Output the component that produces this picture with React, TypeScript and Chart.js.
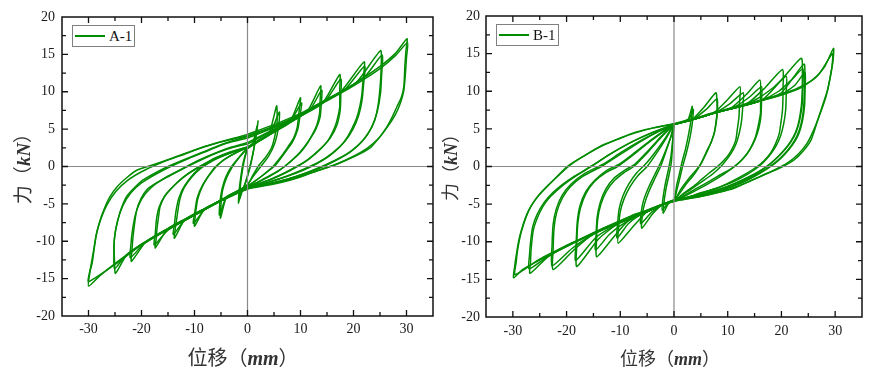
import React, { useEffect, useRef } from "react";
import { Chart, registerables } from "chart.js";
Chart.register(...registerables);

const GREEN = "rgb(0,140,0)";

// tick labels & tick marks
const xTickLabels = [-30, -20, -10, 0, 10, 20, 30];
const yTickLabels = [-20, -15, -10, -5, 0, 5, 10, 15, 20];
const xTickMarks = [-30, -25, -20, -15, -10, -5, 0, 5, 10, 15, 20, 25, 30];
const yTickMarks = [-17.5, -15, -12.5, -10, -7.5, -5, -2.5, 0, 2.5, 5, 7.5, 10, 12.5, 15, 17.5];

// ---------- A-1 hysteresis loops [displacement mm, force kN] ----------
const A1_loop1 = [[0,2.5],[1.0,3.0],[1.5,3.6],[2.0,6.1],[1.6,4.2],[1.2,2.4],[0.6,0.4],[0,-1.2],[-0.6,-2.6],[-1.2,-3.4],[-1.7,-4.9],[-1.6,-3.4],[-1.3,-1.6],[-0.9,0.2],[-0.4,1.6],[0,2.5]];
const A1_loop1b = [[0,2.4],[1.0,3.1],[1.8,5.4],[1.5,3.6],[1.0,1.6],[0.4,-0.3],[-0.3,-2.0],[-0.9,-3.1],[-1.5,-4.4],[-1.4,-3.0],[-1.1,-1.2],[-0.7,0.5],[-0.3,1.7],[0,2.4]];
const A1_loop2 = [[0,2.5],[2,3.4],[4,4.3],[5.5,8.1],[5.6,6.6],[5.5,5.3],[4.6,2.6],[3.4,1.2],[2.2,0.2],[1,-1.2],[0,-2.5],[-2,-3.4],[-4,-4.2],[-5.1,-6.9],[-5.0,-5.0],[-4.7,-3.2],[-4.0,-1.6],[-3.0,-0.2],[-1.8,1.0],[-0.8,1.9],[0,2.5]];
const A1_loop2b = [[0,2.4],[2,3.3],[4.2,4.3],[6,7.3],[5.9,5.5],[5.2,3.2],[4,1.4],[2.5,0],[1,-1.4],[0,-2.4],[-2,-3.3],[-4,-4.1],[-5.3,-6.5],[-5.2,-4.8],[-4.8,-3.0],[-4.1,-1.4],[-3,0],[-1.6,1.2],[0,2.4]];
const A1_loop3 = [[0,2.5],[3,3.8],[6,5.0],[8,5.9],[10,9.2],[9.7,7.2],[9.4,5.3],[8.7,3.8],[7.6,2.6],[6.2,1.2],[4.8,0],[3,-1.1],[1.5,-1.9],[0,-2.6],[-3,-3.7],[-6,-4.9],[-8.3,-5.9],[-10,-8],[-9.8,-6.3],[-9.4,-4.4],[-8.6,-2.8],[-7.5,-1.4],[-6,0],[-4,1.1],[-2,1.9],[0,2.5]];
const A1_loop3b = [[0,2.6],[4,4.3],[8,6.0],[10.2,8.5],[9.9,6.8],[9.5,5.0],[8.5,3.3],[7.2,2.0],[5.3,0.2],[3.2,-1.0],[0,-2.7],[-4,-4.1],[-8,-5.7],[-10.2,-7.6],[-9.9,-5.9],[-9.5,-4.2],[-8.4,-2.4],[-6.6,-0.6],[-4.5,0.9],[-2,1.9],[0,2.6]];
const A1_loop4 = [[0,2.5],[4,4.2],[8,5.9],[11.3,7.4],[13.8,10.8],[13.7,8.8],[13.6,7.1],[13.1,5.6],[12.4,4.5],[11.3,3.1],[9.9,1.8],[8,0.6],[6.1,-0.5],[4,-1.4],[2,-2.1],[0,-2.7],[-4,-4.2],[-8,-5.6],[-11.8,-7.1],[-13.8,-9.6],[-13.6,-8.2],[-13.4,-7.2],[-12.8,-4.5],[-12.0,-2.9],[-10.5,-1.4],[-8.7,-0.2],[-6.5,0.8],[-4,1.6],[-2,2.1],[0,2.5]];
const A1_loop4b = [[0,2.6],[5,4.7],[9,6.3],[11.8,7.6],[14,10.2],[13.9,8.2],[13.7,6.6],[12.9,5.0],[11.5,3.4],[9.5,1.6],[7,0],[4,-1.3],[0,-2.8],[-5,-4.6],[-9,-6.0],[-12,-7.3],[-14,-9.1],[-13.8,-7.8],[-13.5,-6.0],[-12.9,-4.1],[-11.8,-2.5],[-9.5,-0.5],[-6.5,1.0],[-3,2.0],[0,2.6]];
const A1_loop5 = [[0,2.5],[5,4.6],[10,6.7],[14.2,8.5],[17.4,12.3],[17.4,10.2],[17.4,8],[17.0,6.5],[16.5,5.3],[15.3,3.6],[13.6,2.2],[11.6,1.0],[9.4,0],[7,-0.9],[4.5,-1.7],[2,-2.3],[0,-2.8],[-5,-4.5],[-10,-6.4],[-15,-8.3],[-17.4,-10.9],[-17.2,-9.5],[-17.1,-8.5],[-16.8,-6.8],[-16.5,-5.4],[-15.7,-4.1],[-14.6,-3.1],[-13,-2.0],[-11,-0.9],[-9,0],[-6.5,0.9],[-4,1.6],[-2,2.1],[0,2.5]];
const A1_loop5b = [[0,2.6],[5,4.7],[10,6.8],[14.6,8.7],[17.6,11.7],[17.6,9.5],[17.5,7.6],[16.9,5.6],[15.6,3.8],[13.8,2.4],[11.5,1.0],[9,-0.1],[6,-1.2],[3,-2.1],[0,-2.9],[-5,-4.6],[-10,-6.5],[-15,-8.5],[-17.6,-10.5],[-17.4,-9.0],[-17.2,-7.2],[-16.7,-5.5],[-15.6,-3.9],[-13.8,-2.5],[-11.5,-1.1],[-8.5,0.2],[-5,1.4],[-2,2.2],[0,2.6]];
const A1_loop6 = [[0,3.2],[5,5.0],[10,6.9],[14,8.5],[17.6,10.0],[22,14],[21.8,11.5],[21.5,9.2],[20.9,7.2],[20.2,5.8],[18.9,4.0],[17.4,2.6],[15.4,1.4],[13.1,0.4],[10.5,-0.5],[7.5,-1.3],[4,-2.1],[0,-2.8],[-5,-4.5],[-10,-6.4],[-15,-8.3],[-19.2,-10.1],[-21.9,-12.7],[-21.8,-11.2],[-21.6,-9.4],[-21.3,-7.6],[-20.9,-5.8],[-20.1,-4.3],[-19,-3.1],[-17.2,-2.2],[-14.6,-1.2],[-12,-0.2],[-9,0.9],[-6,1.8],[-3,2.6],[0,3.2]];
const A1_loop6b = [[0,3.0],[5,4.9],[10,6.8],[15,8.9],[18.5,10.4],[22.1,13.4],[21.9,11],[21.6,8.8],[21,6.9],[19.9,5.0],[18.3,3.3],[16,1.8],[13.5,0.6],[10.5,-0.4],[7,-1.4],[3.5,-2.2],[0,-2.9],[-5,-4.6],[-10,-6.5],[-15,-8.4],[-19.5,-10.3],[-22.1,-12.2],[-22,-10.5],[-21.7,-8.5],[-21.1,-6.3],[-20,-4.4],[-18.3,-2.9],[-15.5,-1.5],[-12.5,-0.4],[-9,0.8],[-5.5,1.9],[-2.5,2.6],[0,3.0]];
const A1_loop7 = [[0,4.0],[5,5.3],[10,7.0],[15,9.0],[20.6,11.3],[25.1,15.5],[25.2,13],[25,10.5],[24.6,8],[24,6.2],[22.9,4.6],[21.3,3.1],[19.3,1.9],[16.9,0.9],[14,-0.1],[11,-0.9],[7.5,-1.7],[4,-2.3],[0,-2.9],[-5,-4.5],[-10,-6.4],[-15,-8.3],[-20,-10.4],[-22.8,-11.8],[-24.9,-14.3],[-25.1,-12.5],[-25.2,-10.7],[-25.0,-9.0],[-24.6,-7.6],[-23.8,-5.6],[-22.8,-4.0],[-21.3,-2.8],[-19.7,-1.8],[-17.5,-0.9],[-15,0],[-12,0.9],[-8.5,1.9],[-5,2.9],[-2.5,3.5],[0,4.0]];
const A1_loop7b = [[0,3.8],[5,5.2],[10,6.9],[15,8.9],[20,11.0],[22.5,12.3],[25.4,14.9],[25.3,12.2],[25.1,9.8],[24.5,7.4],[23.4,5.2],[21.8,3.5],[19.6,2.1],[17,1.0],[14,0],[10.5,-1.0],[7,-1.8],[3.5,-2.4],[0,-3.0],[-5,-4.6],[-10,-6.5],[-15,-8.4],[-20,-10.5],[-23.3,-12.2],[-25.1,-13.7],[-25.2,-11.8],[-25.1,-9.6],[-24.5,-7.2],[-23.5,-5.2],[-22,-3.5],[-20,-2.2],[-17.5,-1.1],[-14.5,0],[-11,1.1],[-7.5,2.1],[-4,3.1],[0,3.8]];
const A1_loop8 = [[0,4.3],[5,5.6],[10,7.1],[15,9.0],[20,11.0],[25,13.4],[28,15.2],[30.1,17.1],[29.9,15.5],[29.7,13.5],[29.5,10.7],[29,9.2],[28.2,8],[27.3,6.6],[26.3,5.3],[25,4.0],[23.3,2.6],[21.2,1.7],[18.8,0.9],[16,0.1],[13,-0.6],[10,-1.3],[6.5,-2],[3,-2.5],[0,-2.9],[-5,-4.5],[-10,-6.4],[-15,-8.3],[-20,-10.4],[-25,-13],[-28,-14.7],[-30,-16],[-29.7,-14],[-29.3,-12.9],[-28.6,-9.4],[-27.9,-7.4],[-27.1,-5.8],[-26,-4.1],[-24.6,-2.7],[-22.8,-1.5],[-20.9,-0.5],[-17.5,0.3],[-15,0.9],[-12,1.6],[-8.8,2.5],[-6,3.1],[-4,3.5],[-2,3.9],[0,4.3]];
const A1_loop8b = [[0,4.1],[5,5.4],[10,6.9],[15,8.8],[20,10.8],[25,13.1],[28,14.9],[30.2,16.6],[30.0,14.6],[29.8,12.5],[29.5,10.2],[28.8,8.4],[27.8,6.8],[26.5,5.4],[24.8,3.8],[22.5,2.4],[19.8,1.3],[16.8,0.3],[13.5,-0.5],[10,-1.4],[6.5,-2.1],[3,-2.6],[0,-3.0],[-5,-4.6],[-10,-6.5],[-15,-8.4],[-20,-10.5],[-25,-13.1],[-30,-15.4],[-29.6,-13.5],[-29.1,-11.5],[-28.5,-9.0],[-27.6,-6.9],[-26.5,-5.1],[-24.8,-3.3],[-22.5,-1.8],[-20,-0.7],[-17,0.3],[-13.5,1.3],[-9.5,2.3],[-5.5,3.2],[-2.5,3.7],[0,4.1]];

// ---------- B-1 hysteresis loops [displacement mm, force kN] ----------
const B1_loop1 = [[0,5.6],[1.5,5.9],[2.6,6.2],[3.4,8.0],[3.3,6.8],[3.1,5.8],[2.8,4.6],[2.5,3.5],[2.1,2.2],[1.6,0.9],[0.9,-1.3],[0.5,-2.5],[0.3,-3.5],[0,-4.6],[-1,-4.9],[-2,-6.2],[-1.9,-5],[-1.5,-3],[-0.9,-1],[-0.5,0.5],[-0.3,2.5],[-0.2,4.0],[0,5.6]];
const B1_loop1b = [[0,5.6],[1.8,6.0],[2.9,6.4],[3.6,7.6],[3.5,6.4],[3.3,5.2],[2.9,3.6],[2.3,1.8],[1.6,0],[1.0,-1.8],[0.5,-3.2],[0,-4.5],[-1.1,-4.9],[-2.2,-5.8],[-2.1,-4.5],[-1.7,-2.6],[-1.1,-0.6],[-0.6,1.2],[-0.3,3.0],[-0.1,4.5],[0,5.6]];
const B1_loop2 = [[0,5.6],[3.3,6.2],[5.5,7.8],[7.8,9.8],[8,8.5],[8,7.1],[7.8,5.8],[7.5,4.4],[6.9,3.2],[6.2,2.2],[5,0.4],[4.1,-0.5],[3.1,-1.3],[1.2,-3.1],[0,-4.6],[-2,-5.0],[-4,-6.3],[-6,-8.2],[-5.9,-6.5],[-5.5,-5],[-4.6,-3.2],[-3.5,-1.5],[-2.5,0],[-1.5,2],[-0.6,3.9],[0,5.6]];
const B1_loop2b = [[0,5.6],[3.3,6.2],[6,7.6],[8.0,9.0],[8.1,7.8],[8.0,6.6],[7.6,4.8],[7.0,3.4],[6.1,1.9],[5,0.3],[3.8,-1.0],[2.2,-2.4],[0,-4.5],[-2,-5.0],[-4.2,-6.1],[-6.2,-7.6],[-6.1,-6.1],[-5.7,-4.6],[-4.8,-2.9],[-3.6,-1.1],[-2.5,0.5],[-1.4,2.4],[-0.5,4.1],[0,5.6]];
const B1_loop3 = [[0,5.6],[3.3,6.2],[7.5,7.2],[10,8.9],[12.3,10.6],[12.2,8.5],[12.1,6.6],[11.8,5],[11.5,3.5],[10.8,2.3],[9.9,1.3],[8.1,0],[6.5,-0.9],[5,-1.8],[3.5,-2.7],[1.9,-3.5],[0,-4.6],[-2,-5.0],[-5,-6.0],[-8,-8.3],[-10.4,-10.2],[-10.3,-8],[-10,-6],[-9.3,-4.3],[-8.2,-2.7],[-6.7,-1.2],[-5,0],[-3.2,1.8],[-1.5,3.7],[0,5.6]];
const B1_loop3b = [[0,5.6],[3.3,6.2],[8,7.3],[10.5,8.4],[12.9,9.8],[12.8,8.0],[12.6,6.2],[12.2,4.6],[11.6,3.1],[10.6,1.7],[9.1,0.3],[7.2,-1.0],[5,-2.1],[2.8,-3.2],[0,-4.5],[-2,-5.0],[-5.5,-6.1],[-8.5,-7.6],[-10.6,-9.5],[-10.5,-7.6],[-10.2,-5.6],[-9.5,-3.9],[-8.4,-2.3],[-6.9,-0.8],[-5.2,0.4],[-3.3,2.1],[-1.5,3.9],[0,5.6]];
const B1_loop4 = [[0,5.6],[3.3,6.2],[8,7.2],[10.5,7.7],[13.5,9.6],[16,11.5],[16.1,9.3],[16.1,7.1],[15.7,5.5],[15.2,4],[14.5,2.8],[13.7,1.8],[12.5,0.8],[11.2,0],[9.7,-0.7],[8.1,-1.3],[6,-2.2],[3.7,-3.1],[1.8,-3.9],[0,-4.6],[-2,-5.0],[-5,-6.0],[-8.5,-7.2],[-11.5,-9.6],[-14.4,-12],[-14.4,-9.5],[-14.2,-7],[-13.6,-5],[-12.6,-3.3],[-11,-1.8],[-9.3,-0.8],[-7.5,0],[-5,1.8],[-2.5,3.8],[0,5.6]];
const B1_loop4b = [[0,5.6],[3.3,6.2],[8,7.2],[11.5,8.0],[14,9.2],[16.3,10.6],[16.3,8.8],[16.2,6.8],[15.8,5.1],[15.1,3.6],[14.1,2.2],[12.8,1.0],[11.3,0],[9.3,-1.0],[6.8,-2.1],[4,-3.2],[1.8,-4.0],[0,-4.5],[-2,-5.0],[-5,-6.0],[-9,-7.4],[-12,-9.0],[-14.6,-11.1],[-14.5,-9.0],[-14.3,-6.7],[-13.7,-4.7],[-12.7,-3.0],[-11.1,-1.5],[-9.2,-0.5],[-7.3,0.3],[-4.8,2.1],[-2.4,4.0],[0,5.6]];
const B1_loop5 = [[0,5.6],[3.3,6.2],[8,7.2],[13.5,8.3],[17,10.5],[20.2,12.9],[20.3,10.5],[20.2,7.5],[19.9,5.8],[19.6,4.4],[18.9,3],[18,1.8],[16.8,0.8],[15.5,0],[13.5,-0.9],[11.2,-1.8],[8,-2.9],[5,-3.5],[2.5,-4.1],[0,-4.6],[-2,-5.0],[-5,-6.0],[-10,-7.4],[-14,-9.6],[-18.1,-13.3],[-18.1,-10.5],[-17.9,-7.5],[-17.4,-5.5],[-16.4,-3.6],[-14.8,-2],[-12.7,-0.8],[-10.5,0],[-7.5,1.6],[-4.5,3.3],[-2,4.6],[0,5.6]];
const B1_loop5b = [[0,5.6],[3.3,6.2],[8,7.2],[12,8.0],[15.5,9.0],[18.5,10.5],[20.9,12.0],[20.9,10.0],[20.8,7.6],[20.4,5.6],[19.8,4.0],[18.9,2.6],[17.6,1.3],[15.8,0],[13.5,-1.1],[10.5,-2.2],[7,-3.1],[3.5,-3.9],[0,-4.5],[-2,-5.0],[-5,-6.0],[-10,-7.5],[-14.5,-9.4],[-18.3,-12.5],[-18.2,-10.0],[-18.0,-7.3],[-17.5,-5.2],[-16.4,-3.3],[-14.7,-1.8],[-12.5,-0.5],[-10.2,0.3],[-7.2,1.9],[-4.3,3.5],[-2,4.7],[0,5.6]];
const B1_loop6 = [[0,5.6],[3.3,6.2],[8,7.2],[12,7.9],[16.5,8.9],[20,11.5],[23.7,14.4],[23.9,12],[23.8,8.8],[23.5,7],[23,5.3],[22.2,3.9],[21.1,2.7],[19.6,1.5],[18,0.4],[16.2,-0.5],[14.3,-1.3],[11.3,-2.3],[8.1,-3.1],[4,-3.9],[0,-4.4],[-2,-5.0],[-5,-6.0],[-10,-7.4],[-15,-9.0],[-18.5,-11],[-22.5,-13.7],[-22.5,-11],[-22.3,-8],[-21.8,-6],[-20.8,-4.2],[-19.3,-2.7],[-17,-1.3],[-13.5,0],[-10,1.6],[-6,3.4],[-3,4.6],[0,5.6]];
const B1_loop6b = [[0,5.6],[3.3,6.2],[8,7.2],[12,7.9],[16,8.7],[19.5,10.0],[22,11.6],[24.0,13.0],[24.0,11.0],[23.9,8.6],[23.5,6.5],[22.8,4.7],[21.7,3.2],[20.2,1.9],[18.3,0.6],[16,-0.6],[13,-1.7],[9.5,-2.8],[5,-3.8],[0,-4.5],[-2,-5.0],[-5,-6.0],[-10,-7.4],[-15,-9.0],[-19,-10.9],[-22.7,-13.2],[-22.7,-10.5],[-22.5,-7.7],[-21.9,-5.6],[-20.8,-3.8],[-19.1,-2.3],[-16.6,-0.9],[-13.2,0.3],[-9.8,1.9],[-5.8,3.6],[-2.8,4.7],[0,5.6]];
const B1_loop7 = [[0,5.6],[3.3,6.2],[8,7.2],[12,7.9],[16,8.7],[20,9.8],[24.2,13.6],[24.3,11],[24.2,8.5],[23.9,6.5],[23.3,4.8],[22.4,3.4],[21.2,2.2],[19.6,1.0],[17.8,0],[15,-1.2],[12,-2.3],[8.5,-3.2],[4.5,-3.9],[0,-4.5],[-2,-5.0],[-5,-6.0],[-10,-7.4],[-15,-8.9],[-20,-10.5],[-23.5,-12],[-26.8,-14.2],[-26.7,-12.5],[-26.6,-11],[-26.2,-8.5],[-25.6,-7.1],[-24.4,-5.3],[-23,-4],[-21.2,-2.8],[-19.4,-1.8],[-17.5,-0.9],[-15.5,0],[-12,1.6],[-8,3.2],[-4,4.5],[0,5.6]];
const B1_loop7b = [[0,5.6],[3.3,6.2],[8,7.2],[12,7.9],[16,8.7],[20,9.6],[22.5,10.8],[24.4,12.5],[24.4,10.3],[24.3,8.0],[23.9,6.0],[23.2,4.3],[22.1,2.9],[20.6,1.6],[18.8,0.4],[16,-0.9],[12.5,-2.2],[8.5,-3.2],[4.5,-3.9],[0,-4.5],[-2,-5.0],[-5,-6.0],[-10,-7.4],[-15,-8.9],[-20,-10.6],[-24,-12.2],[-27.0,-13.6],[-26.9,-11.8],[-26.7,-10.0],[-26.3,-8.0],[-25.5,-6.4],[-24.2,-4.8],[-22.6,-3.5],[-20.8,-2.4],[-18.8,-1.4],[-16.6,-0.5],[-14.8,0.3],[-11.5,1.8],[-7.5,3.4],[-3.8,4.6],[0,5.6]];
const B1_loop8 = [[0,5.7],[3.3,6.3],[8,7.3],[12,8.0],[16,8.8],[20,9.6],[23,10.4],[26,11.6],[28,13.2],[29.7,15.7],[29.6,14],[29.2,12.4],[28.6,10.2],[27.6,8],[26.6,5.8],[25.5,3.5],[24.1,2.1],[22.4,0.9],[20,-0.1],[17.4,-0.9],[14.3,-1.9],[11.2,-2.9],[8,-3.5],[5,-4],[2.5,-4.3],[0,-4.6],[-2.5,-5.1],[-5,-5.8],[-7.5,-6.4],[-10.5,-7.4],[-13.7,-8.4],[-16.8,-9.5],[-19.9,-10.6],[-23,-11.7],[-26,-12.8],[-28.2,-13.7],[-29.9,-14.8],[-29.7,-13.5],[-29.5,-12.4],[-28.8,-9.5],[-27.3,-6.2],[-25.8,-4.4],[-24.2,-3.1],[-22,-1.5],[-19.9,0],[-17,1.3],[-13.7,2.7],[-10.5,3.6],[-7.5,4.4],[-4,5.1],[0,5.7]];
const B1_loop8b = [[0,5.6],[3.3,6.2],[8,7.2],[12,7.9],[16,8.7],[20,9.5],[24,10.6],[27,12.3],[29.5,15.0],[29.4,13.2],[29.0,11.5],[28.3,9.3],[27.3,7.2],[26.1,5.0],[24.8,3.1],[23.2,1.7],[21.2,0.5],[18.6,-0.5],[15.5,-1.5],[12.3,-2.5],[9,-3.3],[5.5,-3.9],[2.5,-4.3],[0,-4.6],[-2.5,-5.1],[-5,-5.8],[-10,-7.2],[-15,-8.8],[-20,-10.5],[-25,-12.3],[-29.6,-14.4],[-29.4,-12.8],[-29.1,-11.0],[-28.4,-8.6],[-27.0,-5.8],[-25.4,-4.0],[-23.6,-2.6],[-21.5,-1.2],[-19.3,0.2],[-16.5,1.5],[-13.2,2.8],[-10,3.8],[-7,4.6],[-3.5,5.2],[0,5.6]];

const A1_loops = [A1_loop1, A1_loop1b, A1_loop2, A1_loop2b, A1_loop3, A1_loop3b, A1_loop4, A1_loop4b, A1_loop5, A1_loop5b, A1_loop6, A1_loop6b, A1_loop7, A1_loop7b, A1_loop8, A1_loop8b];
const B1_loops = [B1_loop1, B1_loop1b, B1_loop2, B1_loop2b, B1_loop3, B1_loop3b, B1_loop4, B1_loop4b, B1_loop5, B1_loop5b, B1_loop6, B1_loop6b, B1_loop7, B1_loop7b, B1_loop8, B1_loop8b];

const TICK_FONT = { family: "'Liberation Serif', 'Times New Roman', serif", size: 14 };

const framePlugin = {
  id: "frameTicks",
  afterDatasetsDraw(chart: any) {
    const { ctx, chartArea: a, scales } = chart;
    const xs = scales.x, ys = scales.y;
    ctx.save();
    ctx.strokeStyle = "#8a8a8a";
    ctx.lineWidth = 1.2;
    const x0 = xs.getPixelForValue(0);
    const y0 = ys.getPixelForValue(0);
    ctx.beginPath();
    ctx.moveTo(x0, a.top); ctx.lineTo(x0, a.bottom);
    ctx.moveTo(a.left, y0); ctx.lineTo(a.right, y0);
    ctx.stroke();
    ctx.strokeStyle = "#111";
    ctx.lineWidth = 1.3;
    ctx.beginPath();
    for (const v of xTickMarks) {
      const p = xs.getPixelForValue(v);
      const len = v % 10 === 0 ? 6 : 4;
      ctx.moveTo(p, a.bottom); ctx.lineTo(p, a.bottom - len);
      ctx.moveTo(p, a.top); ctx.lineTo(p, a.top + len);
    }
    for (const v of yTickMarks) {
      const p = ys.getPixelForValue(v);
      const len = v % 5 === 0 ? 6 : 4;
      ctx.moveTo(a.left, p); ctx.lineTo(a.left + len, p);
      ctx.moveTo(a.right, p); ctx.lineTo(a.right - len, p);
    }
    ctx.stroke();
    ctx.lineWidth = 1.5;
    ctx.strokeRect(a.left, a.top, a.right - a.left, a.bottom - a.top);
    ctx.restore();
  },
};

type PanelProps = {
  left: number;
  loops: number[][][];
  label: string;
  pad: { left: number; right: number; top: number; bottom: number };
  yW: number;
  xH: number;
  yPad: number;
  xPad: number;
};

function Panel({ left, loops, label, pad, yW, xH, yPad, xPad }: PanelProps) {
  const ref = useRef<HTMLCanvasElement | null>(null);
  useEffect(() => {
    if (!ref.current) return;
    const chart = new Chart(ref.current, {
      type: "scatter",
      data: {
        datasets: loops.map((l, i) => ({
          label: i === 0 ? label : label + " #" + (i + 1),
          data: l.map(([x, y]) => ({ x, y })),
          showLine: true,
          borderColor: GREEN,
          backgroundColor: GREEN,
          borderWidth: 1.5,
          pointRadius: 0,
          pointHoverRadius: 0,
          tension: 0.2,
          fill: false,
        })),
      },
      options: {
        responsive: false,
        animation: false,
        events: [],
        layout: { padding: pad },
        plugins: { legend: { display: false }, tooltip: { enabled: false } },
        scales: {
          x: {
            type: "linear",
            min: -35,
            max: 35,
            afterBuildTicks: (s: any) => { s.ticks = xTickLabels.map((v) => ({ value: v })); },
            afterFit: (s: any) => { s.height = xH; },
            grid: { display: false, drawTicks: false },
            border: { display: false },
            ticks: { padding: xPad, font: TICK_FONT, color: "#1a1a1a", autoSkip: false, maxRotation: 0 },
          },
          y: {
            type: "linear",
            min: -20,
            max: 20,
            afterBuildTicks: (s: any) => { s.ticks = yTickLabels.map((v) => ({ value: v })); },
            afterFit: (s: any) => { s.width = yW; },
            grid: { display: false, drawTicks: false },
            border: { display: false },
            ticks: { padding: yPad, font: TICK_FONT, color: "#1a1a1a", autoSkip: false },
          },
        },
      } as any,
      plugins: [framePlugin],
    });
    return () => chart.destroy();
  }, []);
  return (
    <canvas
      ref={ref}
      width={437}
      height={372}
      style={{ position: "absolute", left, top: 0, width: 437, height: 372 }}
    />
  );
}

const CJK = "'Noto Sans CJK SC', 'Noto Sans', sans-serif";
const SERIF = "'Liberation Serif', 'Times New Roman', serif";

function Legend({ left, top, label }: { left: number; top: number; label: string }) {
  return (
    <div
      style={{
        position: "absolute", left, top, width: 61, height: 20,
        border: "1.5px solid #808080", background: "#fff", boxSizing: "content-box",
      }}
    >
      <div style={{ position: "absolute", left: 2, top: 9, width: 30, height: 2, background: GREEN }} />
      <div style={{ position: "absolute", left: 36, top: 0, fontFamily: SERIF, fontSize: 15, lineHeight: "20px", color: "#111" }}>{label}</div>
    </div>
  );
}

function YTitle({ cx, cy, size }: { cx: number; cy: number; size: number }) {
  return (
    <div
      style={{
        position: "absolute", left: cx - 60, top: cy - 12, width: 120, height: 24,
        transform: "rotate(-90deg)", textAlign: "center", whiteSpace: "nowrap",
        fontFamily: CJK, fontSize: size, lineHeight: "24px", color: "#333",
      }}
    >
      力（<span style={{ fontFamily: SERIF, fontStyle: "italic", fontWeight: "bold" }}>kN</span>）
    </div>
  );
}

function XTitle({ cx, cy, size }: { cx: number; cy: number; size: number }) {
  return (
    <div
      style={{
        position: "absolute", left: cx - 80, top: cy - 13, width: 160, height: 26,
        textAlign: "center", whiteSpace: "nowrap",
        fontFamily: CJK, fontSize: size, lineHeight: "26px", color: "#333",
      }}
    >
      位移（<span style={{ fontFamily: SERIF, fontStyle: "italic", fontWeight: "bold" }}>mm</span>）
    </div>
  );
}

export default function App() {
  return (
    <div style={{ position: "absolute", left: 0, top: 0, width: 874, height: 372, background: "#fff", overflow: "hidden" }}>
      <Panel left={0} loops={A1_loops} label="A-1" pad={{ left: 0, right: 4, top: 17, bottom: 0 }} yW={62} xH={56} yPad={7} xPad={5} />
      <Panel left={437} loops={B1_loops} label="B-1" pad={{ left: 0, right: 12, top: 16, bottom: 0 }} yW={49} xH={55} yPad={6} xPad={6} />
      <Legend left={72} top={25} label="A-1" />
      <Legend left={496} top={24} label="B-1" />
      <YTitle cx={22} cy={164} size={19} />
      <YTitle cx={449} cy={163} size={18} />
      <XTitle cx={243} cy={357} size={20} />
      <XTitle cx={670} cy={357} size={18} />
    </div>
  );
}
